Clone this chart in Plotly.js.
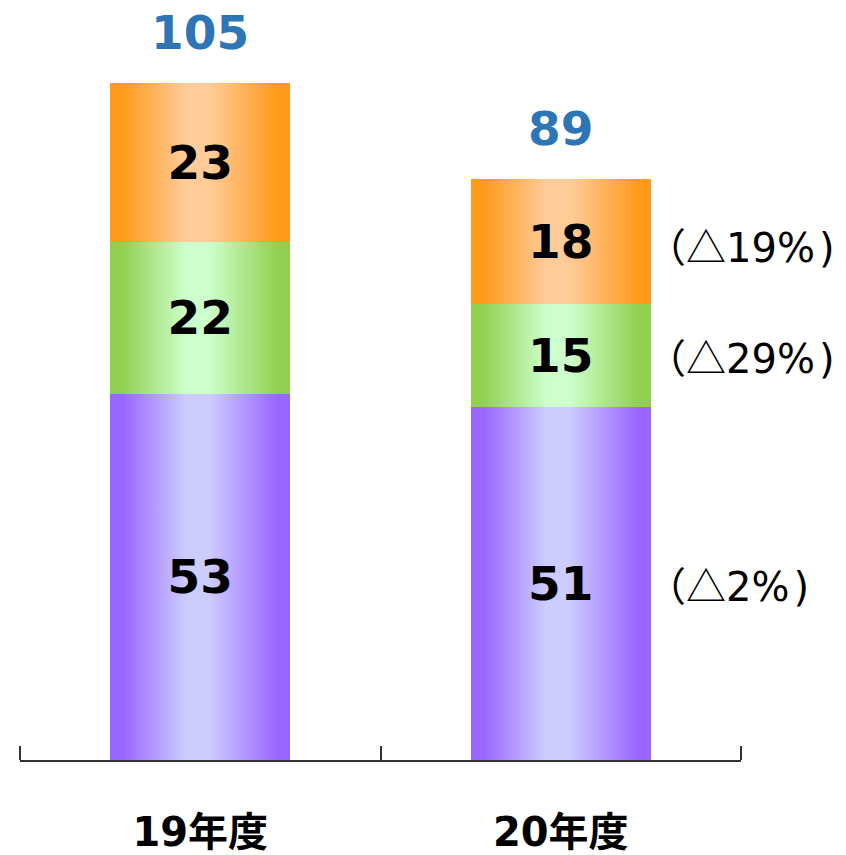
<!DOCTYPE html>
<html>
<head>
<meta charset="utf-8">
<script src="https://cdn.plot.ly/plotly-3.0.1.min.js"></script>
<style>
html, body { margin: 0; padding: 0; background: #fff; }
#chart { width: 846px; height: 855px; }
</style>
</head>
<body>
<div id="chart"></div>
<script>
// ---- data ----
const categories = ['19年度', '20年度'];
const seriesBottom = [53, 51];   // purple
const seriesMiddle = [22, 15];   // green
const seriesTop = [23, 18];      // orange
const totals = [105, 89];
const changePct = ['2%', '29%', '19%']; // bottom, middle, top for 20年度 (△ = decrease)

const FONT = '"DejaVu Sans", "Noto Sans CJK JP", sans-serif';
const gradients = [
  { id: 'gPurple', dark: '#9966FF', light: '#CCCCFF' },
  { id: 'gGreen', dark: '#92D050', light: '#CCFFCC' },
  { id: 'gOrange', dark: '#FF9A1A', light: '#FFCC99' }
];

function barTrace(vals, g) {
  return {
    type: 'bar',
    x: categories,
    y: vals,
    width: 0.5,
    marker: { color: g.dark, line: { width: 0 } },
    text: vals.map(String),
    texttemplate: '%{text}',
    textposition: 'inside',
    insidetextanchor: 'middle',
    textangle: 0,
    textfont: { family: FONT, size: 47, color: '#000000', weight: 'bold' },
    hoverinfo: 'skip'
  };
}

// boundary tick positions between/around categories
const boundaries = categories.map((c, i) => i - 0.5).concat([categories.length - 0.5]);

const data = [
  barTrace(seriesBottom, gradients[0]),
  barTrace(seriesMiddle, gradients[1]),
  barTrace(seriesTop, gradients[2]),
  { // invisible helper trace so the boundary-tick axis is drawn
    type: 'scatter', mode: 'markers', xaxis: 'x2', yaxis: 'y',
    x: boundaries, y: boundaries.map(() => 0),
    marker: { size: 1, opacity: 0 }, hoverinfo: 'skip', showlegend: false
  }
];

const annotations = [];
// totals above bars
categories.forEach((c, i) => {
  const stackTop = seriesBottom[i] + seriesMiddle[i] + seriesTop[i];
  annotations.push({
    x: c, y: stackTop, xref: 'x', yref: 'y',
    text: String(totals[i]), showarrow: false,
    yanchor: 'bottom', yshift: 21,
    font: { family: FONT, size: 47, color: '#2E75B6', weight: 'bold' }
  });
});
// change labels to the right of 20年度
const mids = [
  seriesBottom[1] / 2,
  seriesBottom[1] + seriesMiddle[1] / 2,
  seriesBottom[1] + seriesMiddle[1] + seriesTop[1] / 2
];
changePct.forEach((t, k) => {
  annotations.push({
    x: 1.25, y: mids[k], xref: 'x', yref: 'y',
    text: '<span style="font-family:Noto Sans CJK JP">（△</span>' + t + '\u200A)',
    showarrow: false,
    xanchor: 'left', yanchor: 'middle', xshift: -7, yshift: k === 2 ? -3 : 0,
    font: { family: FONT, size: 40, color: '#000000' }
  });
});

const layout = {
  width: 846, height: 855,
  margin: { l: 20, r: 105, t: 10, b: 95 },
  paper_bgcolor: '#ffffff', plot_bgcolor: '#ffffff',
  barmode: 'stack',
  showlegend: false,
  xaxis: {
    type: 'category',
    range: [-0.5, categories.length - 0.5],
    showline: true, linecolor: '#333333', linewidth: 2,
    ticks: '',
    showgrid: false, zeroline: false,
    tickfont: { family: FONT, size: 40, color: '#000000', weight: 'bold' },
    ticklabelstandoff: 36,
    fixedrange: true
  },
  xaxis2: {
    type: 'linear',
    overlaying: 'x', anchor: 'free', position: 0, side: 'top',
    range: [-0.5, categories.length - 0.5],
    tickmode: 'array', tickvals: boundaries,
    ticks: 'outside', ticklen: 14, tickwidth: 2, tickcolor: '#333333',
    showticklabels: false, showgrid: false, zeroline: false, showline: false,
    fixedrange: true
  },
  yaxis: {
    range: [0, 108.5],
    visible: false, showgrid: false, zeroline: false,
    fixedrange: true
  },
  annotations: annotations
};

Plotly.newPlot('chart', data, layout, { displayModeBar: false, staticPlot: true }).then(gd => {
  const svg = gd.querySelector('svg.main-svg');
  const ns = 'http://www.w3.org/2000/svg';
  const defs = document.createElementNS(ns, 'defs');
  gradients.forEach(g => {
    const lg = document.createElementNS(ns, 'linearGradient');
    lg.setAttribute('id', g.id);
    lg.setAttribute('x1', '0'); lg.setAttribute('x2', '1');
    lg.setAttribute('y1', '0'); lg.setAttribute('y2', '0');
    [[0, g.dark], [0.07, g.dark], [0.42, g.light], [0.55, g.light], [0.93, g.dark], [1, g.dark]].forEach(([o, c]) => {
      const s = document.createElementNS(ns, 'stop');
      s.setAttribute('offset', o);
      s.setAttribute('stop-color', c);
      lg.appendChild(s);
    });
    defs.appendChild(lg);
  });
  svg.insertBefore(defs, svg.firstChild);
  gd.querySelectorAll('.barlayer .trace').forEach((tr, i) => {
    tr.querySelectorAll('.point path').forEach(p => {
      p.style.fill = 'url(#' + gradients[i].id + ')';
    });
  });
});
</script>
</body>
</html>
